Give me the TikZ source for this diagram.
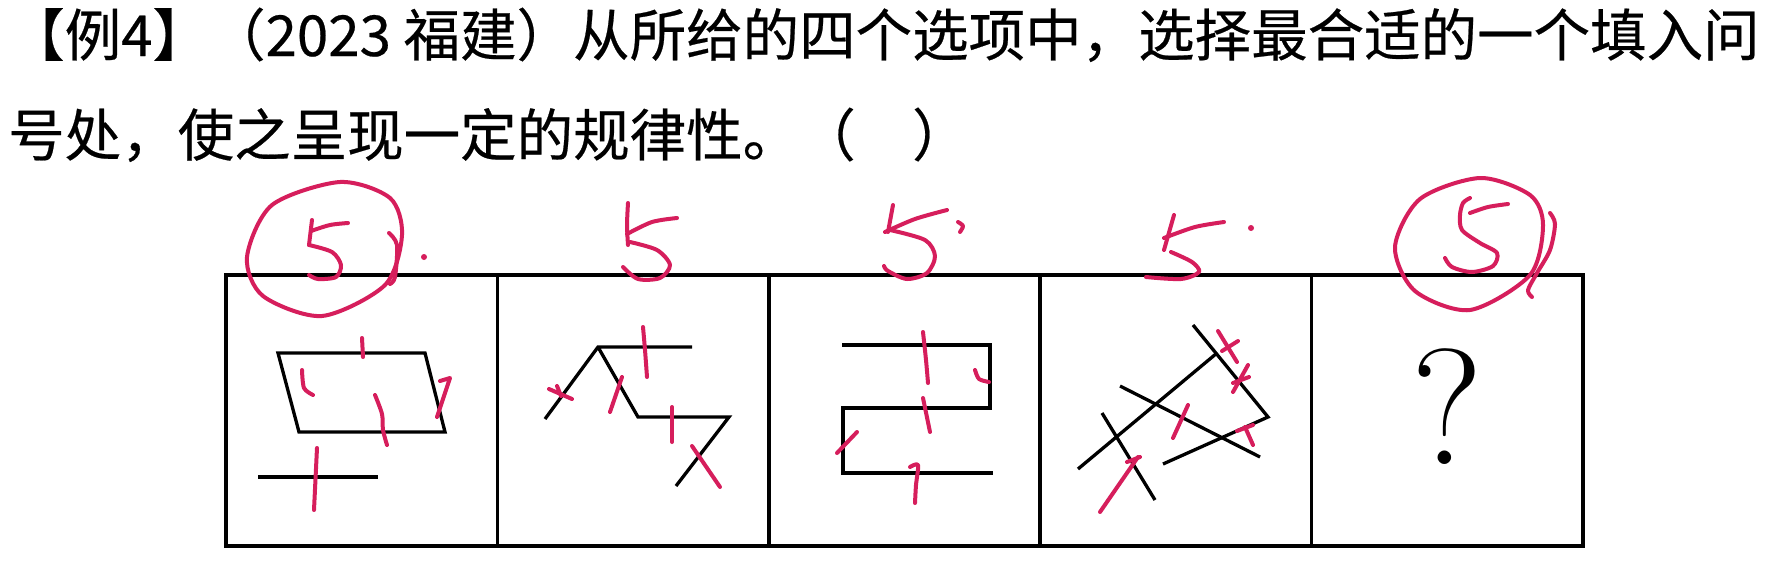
\documentclass[tikz,border=0pt]{standalone}
\usepackage{fontspec}
\newfontfamily\cjk[FakeBold=0.4]{Noto Sans CJK SC}
\usetikzlibrary{positioning}
\definecolor{handred}{RGB}{214,30,92}

\begin{document}
\begin{tikzpicture}[
	x=1pt, y=-1pt, % pixel grid, y pointing down
	% Style for the question text
	stem/.style={anchor=base west, inner sep=0pt, font=\cjk\fontsize{56.5}{60}\selectfont},
	% Style for the five answer panels
	panel/.style={draw, line width=3.5pt, minimum width=271.4pt, minimum height=271pt, inner sep=0pt},
	% Style for the black figure strokes
	fig/.style={line width=3.3pt, line join=miter},
	% Style for the red handwritten marks
	pen/.style={draw=handred, line width=4pt, line cap=round, line join=round}
	]
	\useasboundingbox[fill=white] (0,0) rectangle (1790,576);
	
	% --- QUESTION TEXT ---
	\node[stem] (line1) at (8,56) {【例4】（2023 福建）从所给的四个选项中，选择最合适的一个填入问};
	\node[stem] (line2) at (8,156) {号处，使之呈现一定的规律性。（　）};
	
	% --- PANELS ---
	\foreach \i in {1,...,5}
		\node[panel] (p\i) at ({226+271.4*(\i-0.5)},410.5) {};
	\node[inner sep=0pt, font=\fontsize{165}{165}\selectfont] (ask) at ([yshift=4pt]p5.center) {?};
	
	% --- FIGURES ---
	% Panel 1: parallelogram and a bar
	\draw[fig] (278,353) -- (425,353) -- (445,432) -- (299,432) -- cycle;
	\draw[fig] (258,477) -- (378,477);
	% Panel 2: zigzag
	\draw[fig] (692,347) -- (598,347) -- (545,419) (598,347) -- (638,417) -- (729,417) -- (676,486);
	% Panel 3: meander
	\draw[fig] (842,345) -- (990,345) -- (990,408) -- (843,408) -- (843,473) -- (993,473);
	% Panel 4: crossing lines
	\draw[fig] (1078,469) -- (1217,353);
	\draw[fig] (1193,325) -- (1268,417) -- (1163,464);
	\draw[fig] (1120,386) -- (1260,457);
	\draw[fig] (1102,413) -- (1155,500);
	
	% --- HANDWRITTEN MARKS ---
	% Panel 1
	\draw[pen] plot[smooth cycle] coordinates {(340,182) (390,198) (402,235) (385,285) (322,316) (263,296) (247,257) (272,205)};
	\draw[pen] plot[smooth] coordinates {(389,233) (397,245) (395,277) (390,284)};
	\draw[pen] (312,220) -- (309,245);
	\draw[pen] plot[smooth] coordinates {(311,231) (330,225) (348,223)};
	\draw[pen] plot[smooth] coordinates {(309,245) (332,252) (341,265) (336,277) (318,279) (309,275)};
	\fill[handred] (424,257) circle (3);
	\draw[pen] (362,338) -- (363,357);
	\draw[pen] plot[smooth] coordinates {(302,370) (304,388) (313,395)};
	\draw[pen] plot[smooth] coordinates {(375,395) (382,414) (383,430) (387,445)};
	\draw[pen] (440,381) -- (450,378) -- (437,417);
	\draw[pen] (317,448) -- (314,510);
	% Panel 2
	\draw[pen] plot[smooth] coordinates {(628,203) (627,225) (628,245)};
	\draw[pen] plot[smooth] coordinates {(627,234) (652,222) (677,218)};
	\draw[pen] plot[smooth] coordinates {(630,242) (657,250) (670,265) (660,278) (638,279) (623,267)};
	\draw[pen] (549,389) -- (572,399);
	\draw[pen] (557,386) -- (561,396);
	\draw[pen] plot[smooth] coordinates {(643,327) (645,350) (647,377)};
	\draw[pen] (622,377) -- (610,412);
	\draw[pen] (672,407) -- (672,442);
	\draw[pen] (692,446) -- (720,487);
	% Panel 3
	\draw[pen] (893,205) -- (888,232);
	\draw[pen] plot[smooth] coordinates {(885,232) (915,219) (947,210)};
	\draw[pen] plot[smooth] coordinates {(890,230) (925,240) (935,256) (927,273) (907,279) (888,271) (884,266)};
	\draw[pen] plot[smooth] coordinates {(958,222) (963,226) (960,232)};
	\draw[pen] plot[smooth] coordinates {(923,332) (926,360) (928,383)};
	\draw[pen] plot[smooth] coordinates {(975,370) (979,379) (989,382)};
	\draw[pen] (923,398) -- (930,432);
	\draw[pen] (857,432) -- (837,453);
	\draw[pen] plot[smooth] coordinates {(910,467) (918,465) (916,485) (915,503)};
	% Panel 4
	\draw[pen] (1174,215) -- (1164,250);
	\draw[pen] plot[smooth] coordinates {(1164,238) (1195,227) (1224,222)};
	\draw[pen] plot[smooth] coordinates {(1171,252) (1192,262) (1199,272) (1181,279) (1146,277)};
	\fill[handred] (1251,228) circle (3);
	\draw[pen] (1218,331) -- (1237,362);
	\draw[pen] (1222,351) -- (1238,341);
	\draw[pen] (1248,365) -- (1233,392);
	\draw[pen] (1233,383) -- (1249,377);
	\draw[pen] (1188,405) -- (1173,438);
	\draw[pen] (1237,431) -- (1253,425);
	\draw[pen] (1245,427) -- (1253,445);
	\draw[pen] (1100,512) -- (1138,457);
	\draw[pen] (1127,462) -- (1140,457);
	% Panel 5
	\draw[pen] plot[smooth cycle] coordinates {(1480,178) (1530,195) (1543,225) (1530,275) (1470,310) (1415,291) (1395,247) (1420,199)};
	\draw[pen] plot[smooth] coordinates {(1550,213) (1555,224) (1550,250) (1537,273) (1528,290) (1532,297)};
	\draw[pen] plot[smooth] coordinates {(1508,204) (1488,207) (1470,213)};
	\draw[pen] plot[smooth] coordinates {(1470,198) (1463,203) (1460,215) (1462,230) (1480,243) (1497,253) (1493,266) (1472,272) (1452,267) (1445,258)};
	
\end{tikzpicture}
\end{document}
